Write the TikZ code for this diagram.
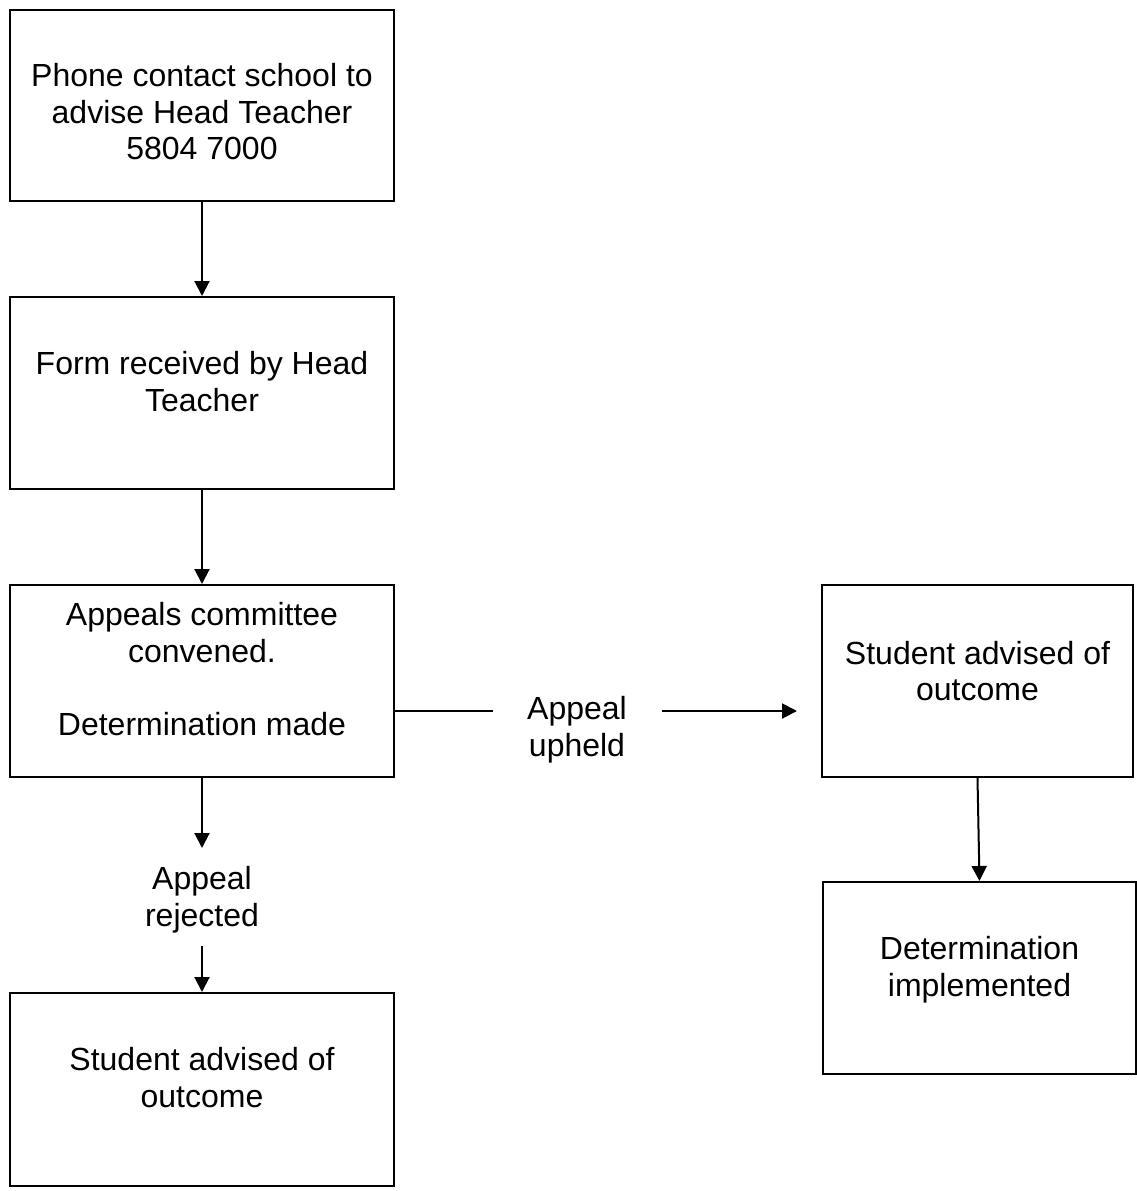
\documentclass[tikz,border=0pt]{standalone}
\usepackage{fontspec}
\setmainfont{Liberation Sans}
\usetikzlibrary{arrows.meta}
\begin{document}
\begin{tikzpicture}[x=1pt,y=-1pt,
  box/.style={draw=black,line width=2pt,inner sep=0pt,rectangle},
  txt/.style={align=center,inner sep=0pt,anchor=north,font=\fontsize{32}{36.5}\selectfont},
  conn/.style={line width=2pt},
  arr/.style={line width=2pt,-{Triangle[width=15pt,length=15pt]}}]
\useasboundingbox (0,0) rectangle (1137,1191);
\fill[white] (0,0) rectangle (1137,1191);
% boxes
\node[box,minimum width=384pt,minimum height=191pt] (b1) at (202,105.5) {};
\node[box,minimum width=384pt,minimum height=192pt] (b2) at (202,393) {};
\node[box,minimum width=384pt,minimum height=192pt] (b3) at (202,681) {};
\node[box,minimum width=311pt,minimum height=192pt] (b4) at (977.5,681) {};
\node[box,minimum width=313pt,minimum height=192pt] (b5) at (979.5,978) {};
\node[box,minimum width=384pt,minimum height=193pt] (b6) at (202,1089.5) {};
% texts
\node[txt] (t1) at (202,63.5) {Phone contact school to\\advise Head Teacher\\5804 7000};
\node[txt] (t2) at (202,351.5) {Form received by Head\\Teacher};
\node[txt] (t3) at (202,602.5) {Appeals committee\\convened.\\[37pt]Determination made};
\node[txt] (t4) at (977.5,641) {Student advised of\\outcome};
\node[txt] (t5) at (979.5,936.5) {Determination\\implemented};
\node[txt] (t6) at (202,1047.5) {Student advised of\\outcome};
\node[txt] (up) at (577,696.5) {Appeal\\upheld};
\node[txt] (rej) at (202,866.5) {Appeal\\rejected};
% connector end points
\coordinate (hu1) at (493,711);
\coordinate (hu2) at (662,711);
\coordinate (hu3) at (797,711);
\coordinate (rj1) at (202,848);
\coordinate (rj2) at (202,946);
% connectors
\draw[arr] (b1.south) -- (b2.north);
\draw[arr] (b2.south) -- (b3.north);
\draw[conn] (b3.east |- hu1) -- (hu1);
\draw[arr] (hu2) -- (hu3);
\draw[arr] (b4.south) -- (b5.north);
\draw[arr] (b3.south) -- (rj1);
\draw[arr] (rj2) -- (b6.north);
\end{tikzpicture}
\end{document}
